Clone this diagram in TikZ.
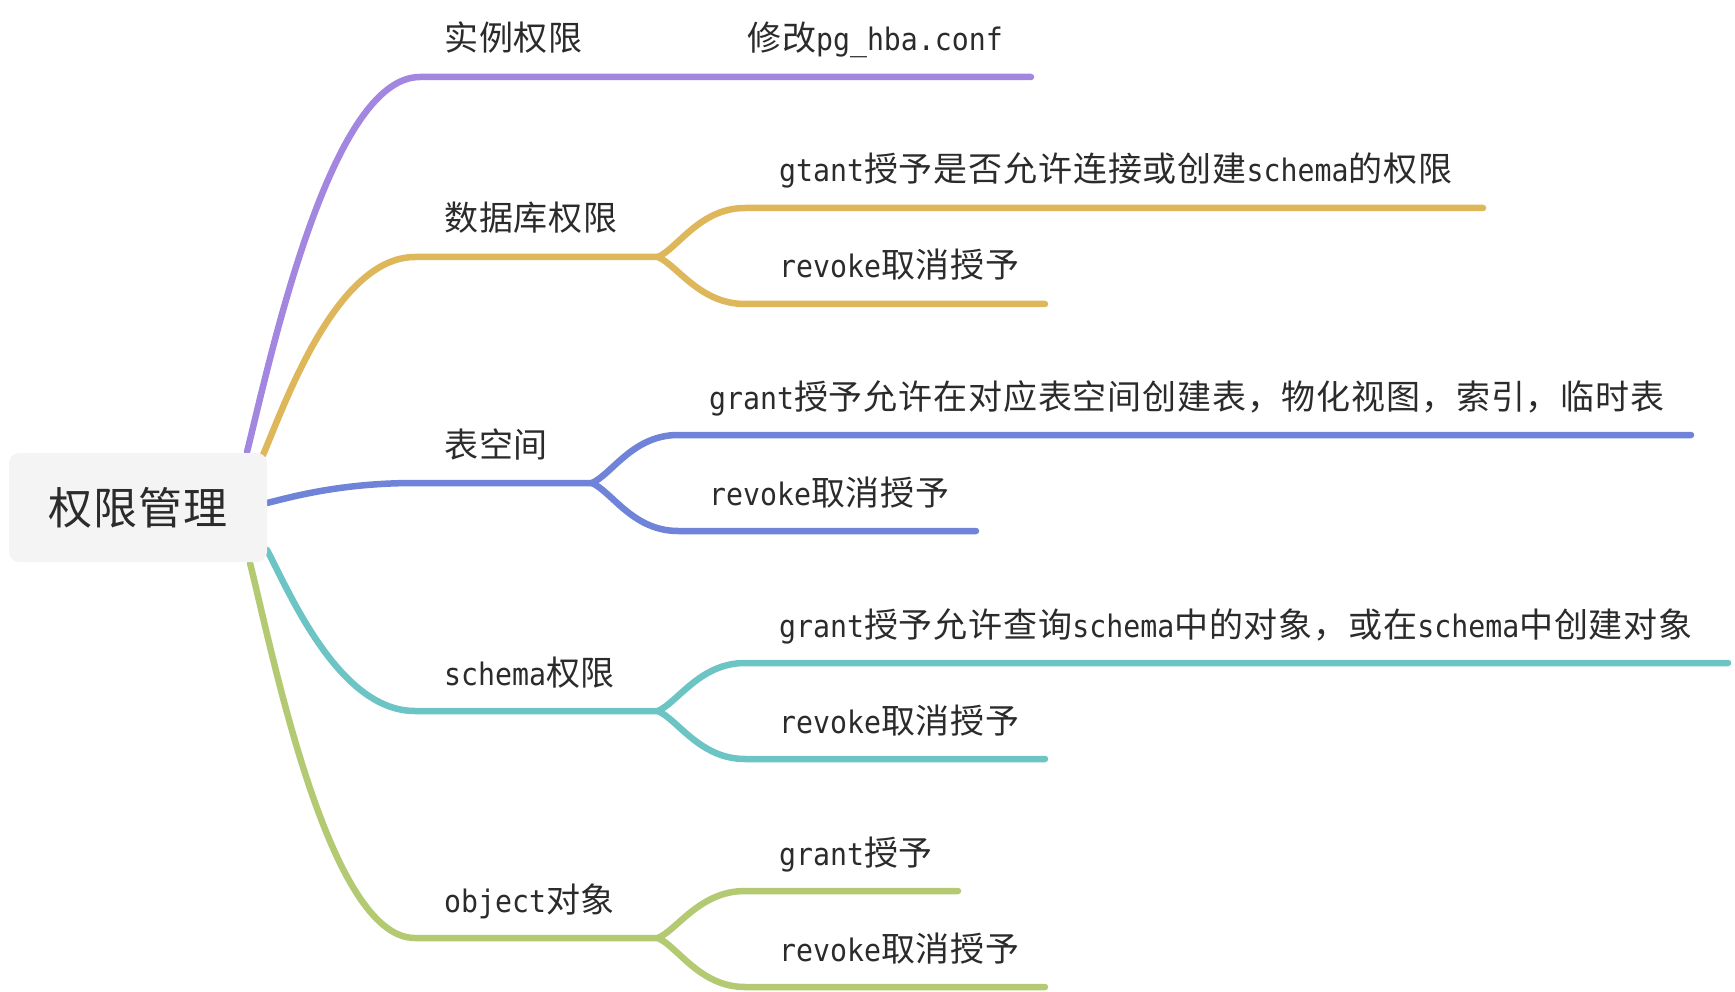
\documentclass[tikz,border=0pt]{standalone}
\usepackage{fontspec}
\setmainfont[LetterSpace=2.5]{Noto Sans CJK SC}
\newfontfamily\latfont[FakeStretch=0.91]{DejaVu Sans Mono}
\usetikzlibrary{calc}
\definecolor{cPurple}{HTML}{A286E0}
\definecolor{cYellow}{HTML}{DFB75B}
\definecolor{cBlue}{HTML}{6F83D9}
\definecolor{cCyan}{HTML}{6CC4C4}
\definecolor{cGreen}{HTML}{B3C972}
\definecolor{boxfill}{HTML}{F4F4F4}
\definecolor{txt}{HTML}{2B2B2B}
\newcommand\lt[1]{{\latfont\fontsize{31}{34}\selectfont #1}}
\tikzset{
  br/.style={line width=6.5pt, line cap=round, line join=round},
  lbl/.style={anchor=base west, inner sep=0pt, text=txt, font=\fontsize{34}{40}\selectfont},
  rootbox/.style={fill=boxfill, rounded corners=10pt, minimum width=258pt, minimum height=109pt,
     inner sep=0pt, text=txt, font=\fontsize{44}{50}\selectfont},
}
\begin{document}
\begin{tikzpicture}[x=1pt,y=-1pt]
\useasboundingbox (0,0) rectangle (1735,992);
% ---- coordinates
\coordinate (s1) at (247,452); \coordinate (h1) at (420,77); \coordinate (e1) at (1031,77);
\coordinate (s2) at (263,455); \coordinate (h2) at (415,257); \coordinate (f2) at (658,257);
\coordinate (a2) at (745,208); \coordinate (ae2) at (1483,208);
\coordinate (b2) at (745,304); \coordinate (be2) at (1045,304);
\coordinate (s3) at (267,503); \coordinate (h3) at (415,483); \coordinate (f3) at (592,483);
\coordinate (a3) at (678,435); \coordinate (ae3) at (1691,435);
\coordinate (b3) at (678,531); \coordinate (be3) at (976,531);
\coordinate (s4) at (267,550); \coordinate (h4) at (415,711); \coordinate (f4) at (658,711);
\coordinate (a4) at (745,663); \coordinate (ae4) at (1728,663);
\coordinate (b4) at (745,759); \coordinate (be4) at (1045,759);
\coordinate (s5) at (250,563); \coordinate (h5) at (415,938); \coordinate (f5) at (658,938);
\coordinate (a5) at (745,891); \coordinate (ae5) at (958,891);
\coordinate (b5) at (745,987); \coordinate (be5) at (1045,987);
% ---- level-1 branches
\draw[br,cPurple] (s1) .. controls ($(s1)+(23,-92)$) and ($(h1)+(-90,0)$) .. (h1) -- (e1);
\draw[br,cYellow] (s2) .. controls ($(s2)+(21,-49)$) and ($(h2)+(-79,0)$) .. (h2) -- (f2);
\draw[br,cBlue] (s3) .. controls ($(s3)+(21,-5)$) and ($(h3)+(-77,0)$) .. (h3) -- (f3);
\draw[br,cCyan] (s4) .. controls ($(s4)+(21,39)$) and ($(h4)+(-77,0)$) .. (h4) -- (f4);
\draw[br,cGreen] (s5) .. controls ($(s5)+(23,92)$) and ($(h5)+(-86,0)$) .. (h5) -- (f5);
% ---- children
\foreach \c/\n in {cYellow/2,cBlue/3,cCyan/4,cGreen/5}{
  \draw[br,\c] (f\n) .. controls ($(f\n)+(20,-9)$) and ($(a\n)+(-45,0)$) .. (a\n) -- (ae\n);
  \draw[br,\c] (f\n) .. controls ($(f\n)+(20,9)$) and ($(b\n)+(-45,0)$) .. (b\n) -- (be\n);
}
% ---- root
\node[rootbox] (root) at (138,507.5) {权限管理};
% ---- labels
\node[lbl] (n1) at (444,51) {实例权限};
\node[lbl] (n1a) at (747,51) {修改\lt{pg\_hba.conf}};
\node[lbl] (n2) at (444,231) {数据库权限};
\node[lbl] (n2a) at (779,182) {\lt{gtant}授予是否允许连接或创建\lt{schema}的权限};
\node[lbl] (n2b) at (779,278) {\lt{revoke}取消授予};
\node[lbl] (n3) at (444,457) {表空间};
\node[lbl] (n3a) at (709,409) {\lt{grant}授予允许在对应表空间创建表，物化视图，索引，临时表};
\node[lbl] (n3b) at (709,505) {\lt{revoke}取消授予};
\node[lbl] (n4) at (444,685) {\lt{schema}权限};
\node[lbl] (n4a) at (779,637) {\lt{grant}授予允许查询\lt{schema}中的对象，或在\lt{schema}中创建对象};
\node[lbl] (n4b) at (779,733) {\lt{revoke}取消授予};
\node[lbl] (n5) at (444,912) {\lt{object}对象};
\node[lbl] (n5a) at (779,865) {\lt{grant}授予};
\node[lbl] (n5b) at (779,961) {\lt{revoke}取消授予};
\end{tikzpicture}
\end{document}
